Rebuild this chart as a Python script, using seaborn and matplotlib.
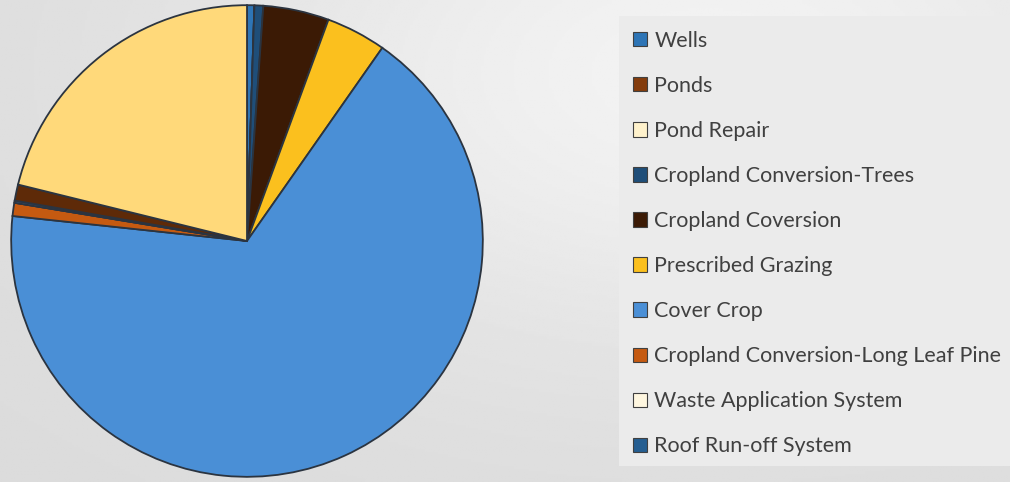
import numpy as np
import matplotlib.pyplot as plt
import matplotlib.patches as mpatches
import seaborn as sns

# practice names as shown in the legend (two trailing wedges have no legend entry)
practices = ["Wells", "Ponds", "Pond Repair", "Cropland Conversion-Trees",
             "Cropland Coversion", "Prescribed Grazing", "Cover Crop",
             "Cropland Conversion-Long Leaf Pine", "Waste Application System",
             "Roof Run-off System", "Unlabeled 11", "Unlabeled 12"]
share = [0.5, 0.0, 0.0, 0.6, 4.5, 4.1, 66.8, 0.9, 0.0, 0.15, 1.1, 21.1]
colors = ["#2e75b6", "#843c0c", "#fff2cc", "#1f4e79", "#3b1a05", "#fbc01e",
          "#4a8fd6", "#c55a11", "#fff7e0", "#255e91", "#5e2a08", "#ffd97a"]
n_legend = 10

sns.set_theme(style="white")
plt.rcParams['font.family'] = ['Lato', 'DejaVu Sans']
pal = sns.color_palette(colors)

fig = plt.figure(figsize=(10.1, 4.82), dpi=100)

# soft grey background, lighter towards the top right
bg = fig.add_axes([0, 0, 1, 1])
yy, xx = np.mgrid[0:1:200j, 0:1:400j]
glow = np.exp(-((xx - 0.7) ** 2 / 0.25 + (yy - 0.15) ** 2 / 0.35))
bg.imshow(0.86 + 0.09 * glow, cmap="gray", vmin=0, vmax=1, aspect="auto",
          extent=[0, 1, 0, 1], origin="upper")
bg.axis("off")

# legend panel
fig.patches.append(mpatches.Rectangle((619 / 1010, 16 / 482), 391 / 1010, 450 / 482,
                                      transform=fig.transFigure, facecolor="#ebebeb",
                                      edgecolor="none", zorder=0))

ax = fig.add_axes([10 / 1010, 4 / 482, 474 / 1010, 474 / 482])
wedges, _ = ax.pie(share, colors=pal, startangle=90, counterclock=False,
                   wedgeprops=dict(edgecolor="#2b3440", linewidth=1.3))
ax.set_xlim(-1.005, 1.005)
ax.set_ylim(-1.005, 1.005)
ax.set_aspect("equal")
ax.axis("off")

handles = [mpatches.Patch(facecolor=pal[i], edgecolor="#404040", linewidth=0.8)
           for i in range(n_legend)]
fig.legend(handles, practices[:n_legend], loc="upper left",
           bbox_to_anchor=(622 / 1010, 1 - 20 / 482), frameon=False,
           fontsize=15.5, labelcolor="#404040", handlelength=0.65, handleheight=0.65,
           handletextpad=0.35, labelspacing=1.165, borderpad=0)

fig.savefig("out.png", dpi=100)
